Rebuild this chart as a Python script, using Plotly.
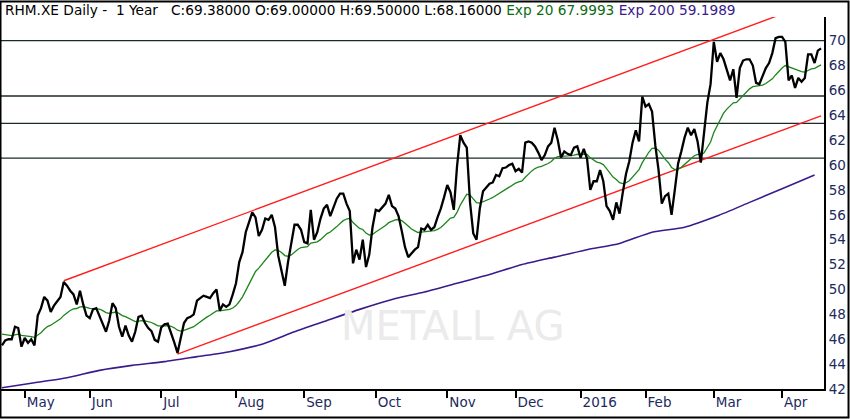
import pandas as pd
import plotly.graph_objects as go

# ---------------- data ----------------
start_date = "2015-04-22"
end_date = "2016-04-19"
holidays = ["2015-05-01", "2015-12-24", "2015-12-25", "2015-12-31",
            "2016-01-01", "2016-03-25", "2016-03-28"]
dates = [d.strftime("%Y-%m-%d") for d in pd.bdate_range(start_date, end_date)
         if d.strftime("%Y-%m-%d") not in holidays]

close = [
    45.5, 45.9, 46.0, 46.0, 47.0, 46.9, 45.4, 46.1, 45.7, 46.0,
    45.5, 47.9, 48.5, 49.4, 49.1, 48.2, 48.7, 49.1, 49.4, 50.6,
    50.3, 49.9, 49.6, 48.8, 49.9, 48.8, 47.9, 47.7, 48.4, 48.5,
    47.9, 47.2, 46.6, 47.5, 48.9, 48.5, 47.0, 46.2, 47.1, 46.3,
    45.8, 46.6, 47.8, 47.9, 47.3, 46.9, 46.65, 45.95, 45.8, 46.95,
    47.2, 47.25, 46.55, 45.75, 44.9, 46.0, 47.3, 47.7, 47.8, 48.0,
    49.1, 49.3, 49.5, 49.4, 49.3, 49.7, 50.0, 48.3, 48.8, 48.6,
    48.8, 49.6, 50.5, 52.2, 53.0, 54.6, 55.5, 56.2, 55.8, 54.3,
    54.8, 55.7, 55.6, 56.0, 55.0, 52.7, 51.5, 50.3, 52.2, 53.8,
    55.2, 55.2, 54.8, 53.8, 53.7, 56.4, 54.0, 54.6, 55.7, 56.5,
    56.8, 55.9, 56.65, 57.3, 57.7, 57.7, 56.9, 56.3, 52.1, 53.2,
    52.4, 54.0, 51.8, 52.8, 55.0, 56.4, 56.3, 56.6, 56.9, 57.6,
    56.7, 56.5, 55.9, 54.7, 53.4, 52.6, 52.9, 53.2, 53.4, 54.9,
    54.8, 55.2, 54.8, 55.0, 55.8, 56.5, 57.4, 58.4, 57.8, 56.4,
    59.9, 62.4, 61.8, 61.4, 57.0, 54.5, 54.0, 56.5, 57.9, 58.2,
    58.5, 58.6, 59.2, 59.1, 59.75, 59.8, 60.0, 60.1, 59.5, 59.7,
    59.4, 61.8, 61.9, 61.8, 61.5, 61.0, 60.4, 60.8, 61.5, 61.8,
    63.0, 62.0, 60.6, 61.1, 60.9, 60.8, 61.4, 61.5, 60.6, 61.3,
    60.5, 58.0, 58.7, 58.7, 59.6, 58.7, 56.7, 56.3, 55.6, 57.0,
    56.1, 57.8, 59.3, 60.3, 61.8, 62.8, 61.9, 65.5, 64.7, 64.9,
    64.3, 61.6, 59.6, 56.9, 57.5, 57.7, 56.0, 58.0, 60.1, 61.1,
    62.2, 63.0, 62.4, 62.9, 61.9, 60.2, 62.7, 65.0, 66.5, 69.9,
    68.3, 69.0, 68.5, 67.6, 66.8, 67.7, 65.4, 67.8, 68.4, 68.5,
    68.5, 68.0, 66.6, 66.5, 67.2, 67.8, 68.2, 69.0, 70.2, 70.3,
    70.3, 69.9, 66.8, 67.2, 66.2, 67.0, 66.7, 67.0, 68.9, 68.9,
    68.2, 69.2, 69.38,
]

n = min(len(dates), len(close))
dates = dates[:n]
close = close[:n]

# Exp 20: exponential average of the closes, starting level
ema20_start = 46.5
ema20_span = 20

# Exp 200, one value every 10 trading days plus the last day
ema200_step = 10
ema200 = [42.1, 42.5, 42.9, 43.5, 43.9, 44.2, 44.6, 45.0, 45.6, 46.6,
          47.5, 48.4, 49.2, 49.8, 50.5, 51.2, 52.0, 52.6, 53.2, 53.7,
          54.6, 55.0, 55.9, 57.0, 58.1, 59.2]

# trend channel (red lines)
upper_dates = ["2015-05-20", "2016-04-19"]
upper_vals = [50.7, 73.3]
lower_dates = ["2015-07-08", "2016-04-19"]
lower_vals = [44.8, 63.95]

# horizontal support / resistance levels
levels = [70.0, 65.55, 63.35, 60.55]

month_labels = ["May", "Jun", "Jul", "Aug", "Sep", "Oct", "Nov", "Dec",
                "2016", "Feb", "Mar", "Apr"]
y_ticks = list(range(42, 71, 2))

header_main = "RHM.XE Daily -\u00a0 1 Year\u00a0\u00a0 C:69.38000 O:69.00000 H:69.50000 L:68.16000"
header_exp20 = "Exp 20 67.9993"
header_exp200 = "Exp 200 59.1989"

# ---------------- derived ----------------
alpha = 2.0 / (ema20_span + 1)
ema20 = []
prev = ema20_start
for c in close:
    prev = prev + alpha * (c - prev)
    ema20.append(prev)

ema200_x = dates[::ema200_step]
if ema200_x[-1] != dates[-1]:
    ema200_x = ema200_x + [dates[-1]]
m = min(len(ema200_x), len(ema200))
ema200_x = ema200_x[:m]
ema200_v = ema200[:m]

tickvals = []
seen = {dates[0][:7]}
for d in dates:
    if d[:7] not in seen:
        seen.add(d[:7])
        tickvals.append(d)
ticktext = month_labels[:len(tickvals)]

# ---------------- figure ----------------
GREEN = "#1c861c"
PURPLE = "#3a1a8c"
RED = "#ff1e1e"
NAVY = "#1c2a5e"
FONT = "DejaVu Sans"

fig = go.Figure()

fig.add_trace(go.Scatter(x=dates, y=close, mode="lines",
                         line=dict(color="rgba(0,0,0,0)", width=0), hoverinfo="skip"))
fig.add_trace(go.Scatter(x=ema200_x, y=ema200_v, mode="lines",
                         line=dict(color=PURPLE, width=1.6, shape="spline", smoothing=0.6),
                         hoverinfo="skip"))
fig.add_trace(go.Scatter(x=upper_dates, y=upper_vals, mode="lines",
                         line=dict(color=RED, width=1.4), hoverinfo="skip"))
fig.add_trace(go.Scatter(x=lower_dates, y=lower_vals, mode="lines",
                         line=dict(color=RED, width=1.4), hoverinfo="skip"))
fig.add_trace(go.Scatter(x=dates, y=ema20, mode="lines",
                         line=dict(color=GREEN, width=1.3), hoverinfo="skip"))
fig.add_trace(go.Scatter(x=dates, y=close, mode="lines",
                         line=dict(color="black", width=2.3)))

for lv in levels:
    fig.add_shape(type="line", xref="paper", yref="y", x0=0, x1=1, y0=lv, y1=lv,
                  line=dict(color="#1e2a2a", width=1.3), layer="below")

# outer frame
fig.add_shape(type="rect", xref="paper", yref="paper",
              x0=-0.0006, x1=1.0298, y0=-0.0766, y1=1.0417,
              line=dict(color="black", width=2), fillcolor="rgba(0,0,0,0)")

fig.add_annotation(
    xref="paper", yref="paper", x=0.0024, y=1.0188, xanchor="left", yanchor="middle",
    showarrow=False,
    text=(header_main + "\u00a0<span style='color:%s'>%s</span>\u00a0"
          "<span style='color:%s'>%s</span>" % ("#0b6b12", header_exp20, PURPLE, header_exp200)),
    font=dict(family=FONT, size=13.7, color="black"))

fig.add_annotation(
    xref="paper", yref="paper", x=0.548, y=0.169, xanchor="center", yanchor="middle",
    showarrow=False,
    text="METALL AG", font=dict(family=FONT, size=40, color="#ebebeb"))

fig.update_layout(
    width=850, height=419,
    margin=dict(l=1, r=26, t=17, b=30),
    paper_bgcolor="white", plot_bgcolor="white",
    showlegend=False,
    xaxis=dict(type="category", categoryorder="array", categoryarray=dates,
               range=[-0.3, n - 0.1],
               tickvals=tickvals, ticktext=ticktext,
               showgrid=False, zeroline=False,
               showline=True, linecolor="black", linewidth=2,
               ticks="outside", ticklen=7, tickwidth=2, tickcolor="black",
               ticklabelposition="outside right",
               tickfont=dict(family=FONT, size=13.5, color=NAVY)),
    yaxis=dict(side="right", range=[42, 71.9], tickvals=y_ticks,
               showgrid=False, zeroline=False,
               showline=True, linecolor="black", linewidth=2,
               ticks="", ticklen=0,
               tickfont=dict(family=FONT, size=13.5, color=NAVY)),
)

fig.write_html("out.html", config={"displayModeBar": False},
               post_script="document.body.style.margin='0px';document.body.style.overflow='hidden';")
